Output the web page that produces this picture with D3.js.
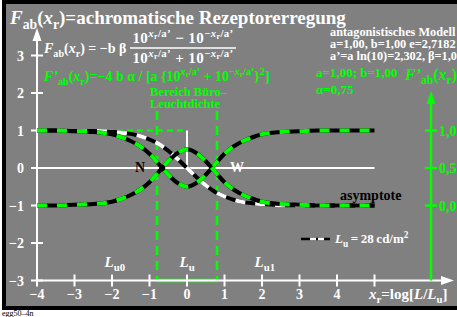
<!DOCTYPE html>
<html>
<head>
<meta charset="utf-8">
<script src="https://cdn.jsdelivr.net/npm/d3@7"></script>
<style>
body { margin: 0; background: #fff; }
svg { display: block; }
text { font-family: "Liberation Serif", "Times New Roman", serif; font-weight: bold; }
</style>
</head>
<body>
<div id="chart"></div>
<script>
// values
const xVals = [-4, -3.5, -3, -2.5, -2, -1.75, -1.5, -1.25, -1, -0.75, -0.5, -0.25, 0,
               0.25, 0.5, 0.75, 1, 1.25, 1.5, 1.75, 2, 2.5, 3, 3.5, 4, 4.5, 5];
// F_ab(x_r), left axis
const fAb = [1.00, 1.00, 0.99, 0.99, 0.96, 0.94, 0.91, 0.85, 0.76, 0.64, 0.46, 0.24, 0.00,
             -0.24, -0.46, -0.64, -0.76, -0.85, -0.91, -0.94, -0.96, -0.99, -0.99, -1.00, -1.00, -1.00, -1.00];
// F'_ab(x_r), right axis
const fDeriv = [0.00, 0.00, 0.01, 0.02, 0.05, 0.09, 0.14, 0.21, 0.31, 0.45, 0.59, 0.70, 0.75,
                0.70, 0.59, 0.45, 0.31, 0.21, 0.14, 0.09, 0.05, 0.02, 0.01, 0.00, 0.00, 0.00, 0.00];
const fDerivMirror = [1.00, 1.00, 0.99, 0.98, 0.95, 0.91, 0.86, 0.79, 0.69, 0.55, 0.41, 0.30, 0.25,
                      0.30, 0.41, 0.55, 0.69, 0.79, 0.86, 0.91, 0.95, 0.98, 0.99, 1.00, 1.00, 1.00, 1.00];

const xTicks = [-4, -3, -2, -1, 0, 1, 2, 3, 4, 5];
const xTickLabels = ["\u22124", "\u22123", "\u22122", "\u22121", "0", "1", "2", "3", "4", ""];
const yTicks = [-3, -2, -1, 0, 1, 2, 3];
const yTickLabels = ["\u22123", "\u22122", "\u22121", "0", "1", "2", "3"];
const rTicks = [0, 0.5, 1];
const rTickLabels = ["0,0", "0,5", "1,0"];
const officeRange = [-0.8, 0.8];
const luLabels = [["u0", -2.2], ["u", -0.2], ["u1", 1.8]];

const W = 457, H = 317;
const green = "#00ff00";

const svg = d3.select("#chart").append("svg")
    .attr("width", W)
    .attr("height", H);

const x = d3.scaleLinear().domain([-4, 5]).range([37, 374.5]);
const y = d3.scaleLinear().domain([-3, 3]).range([280.5, 55.5]);
const yR = d3.scaleLinear().domain([0, 1]).range([y(-1), y(1)]);

// frame
svg.append("rect").attr("x", 2).attr("y", 0).attr("width", 470).attr("height", 310).attr("fill", "#000");
svg.append("rect").attr("x", 6).attr("y", 4).attr("width", 470).attr("height", 302).attr("fill", "#808080");
svg.append("text").attr("x", 2).attr("y", 316).attr("font-size", 8).style("font-weight", "normal")
    .attr("fill", "#000").text("egg50\u20134n");

// rich text: parts = [text, style]; i italic, s sub, p sup, q sub inside sup
function rich(x0, y0, size, fill, parts, anchor, spacing) {
    const t = svg.append("text").attr("x", x0).attr("y", y0)
        .attr("font-size", size).attr("fill", fill);
    if (anchor) t.attr("text-anchor", anchor);
    if (spacing) t.attr("letter-spacing", spacing);
    let cur = 0;
    parts.forEach(p => {
        const txt = p[0], st = p[1] || "";
        let shift = 0, sc = 1;
        if (st.includes("s")) { shift = 0.28; sc = 0.72; }
        if (st.includes("p")) { shift = -0.42; sc = 0.72; }
        if (st.includes("q")) { shift = -0.26; sc = 0.52; }
        const sp = t.append("tspan").attr("dy", (shift - cur) * size)
            .attr("font-size", size * sc).text(txt);
        if (st.includes("i")) sp.style("font-style", "italic");
        cur = shift;
    });
    return t;
}

// zero line and the little white marker at x=0
svg.append("line").attr("x1", x(-4)).attr("x2", x(5)).attr("y1", y(0)).attr("y2", y(0))
    .attr("stroke", "#fff").attr("stroke-width", 2);
svg.append("line").attr("x1", x(0)).attr("x2", x(0)).attr("y1", y(0)).attr("y2", y(1))
    .attr("stroke", "#fff").attr("stroke-width", 2);

// office luminance range
const office = svg.append("g");
office.selectAll("line.v").data(officeRange).join("line")
    .attr("class", "v")
    .attr("x1", d => x(d)).attr("x2", d => x(d))
    .attr("y1", 111).attr("y2", y(-3))
    .attr("stroke", green).attr("stroke-width", 2.5)
    .attr("stroke-dasharray", "9,6");
office.append("line")
    .attr("x1", x(-4)).attr("x2", x(0)).attr("y1", y(1)).attr("y2", y(1))
    .attr("stroke", green).attr("stroke-width", 2)
    .attr("stroke-dasharray", "6,4");

// axes
const ax = svg.append("g").attr("stroke", "#fff").attr("stroke-width", 2);
ax.append("line").attr("x1", x(-4)).attr("x2", 448).attr("y1", y(-3)).attr("y2", y(-3));
ax.append("line").attr("x1", x(-4)).attr("x2", x(-4)).attr("y1", y(-3)).attr("y2", 34);
svg.append("path").attr("fill", "#fff")
    .attr("d", `M${x(-4)},28 L${x(-4) - 4.5},41 L${x(-4) + 4.5},41 Z`);
svg.append("path").attr("fill", "#fff")
    .attr("d", `M454,${y(-3)} L441,${y(-3) - 4.5} L441,${y(-3) + 4.5} Z`);

office.append("line")
    .attr("x1", x(officeRange[0])).attr("x2", x(officeRange[1]))
    .attr("y1", y(-3)).attr("y2", y(-3))
    .attr("stroke", green).attr("stroke-width", 3.5).attr("stroke-linecap", "round");

ax.selectAll("line.xt").data(xTicks).join("line")
    .attr("class", "xt")
    .attr("x1", d => x(d)).attr("x2", d => x(d))
    .attr("y1", y(-3) - 6).attr("y2", y(-3) + 6);
ax.selectAll("line.yt").data(yTicks).join("line")
    .attr("class", "yt")
    .attr("x1", x(-4) - 6).attr("x2", x(-4) + 6)
    .attr("y1", d => y(d)).attr("y2", d => y(d));

svg.selectAll("text.xl").data(xTicks).join("text")
    .attr("class", "xl")
    .attr("x", d => x(d)).attr("y", 299)
    .attr("text-anchor", "middle").attr("font-size", 14).attr("fill", "#fff")
    .text((d, i) => xTickLabels[i]);
svg.selectAll("text.yl").data(yTicks).join("text")
    .attr("class", "yl")
    .attr("x", 24).attr("y", d => y(d) + 5)
    .attr("text-anchor", "end").attr("font-size", 14).attr("fill", "#fff")
    .text((d, i) => yTickLabels[i]);

// right axis for F'
const rx = 431;
svg.append("line").attr("x1", rx).attr("x2", rx).attr("y1", y(-3)).attr("y2", 98)
    .attr("stroke", green).attr("stroke-width", 2.5);
svg.append("path").attr("fill", green)
    .attr("d", `M${rx},91 L${rx - 4.5},104 L${rx + 4.5},104 Z`);
svg.selectAll("line.rt").data(rTicks).join("line")
    .attr("class", "rt")
    .attr("x1", rx - 6).attr("x2", rx + 6)
    .attr("y1", d => yR(d)).attr("y2", d => yR(d))
    .attr("stroke", green).attr("stroke-width", 2.5);
svg.selectAll("text.rl").data(rTicks).join("text")
    .attr("class", "rl")
    .attr("x", rx + 8).attr("y", d => yR(d) + 5)
    .attr("font-size", 14).attr("fill", green)
    .text((d, i) => rTickLabels[i]);

// curves
const lineL = d3.line().x((d, i) => x(xVals[i])).y(d => y(d)).curve(d3.curveMonotoneX);
const lineR = d3.line().x((d, i) => x(xVals[i])).y(d => yR(d)).curve(d3.curveMonotoneX);

function dashed(path, col) {
    svg.append("path").attr("d", path).attr("fill", "none")
        .attr("stroke", "#000").attr("stroke-width", 4);
    svg.append("path").attr("d", path).attr("fill", "none")
        .attr("stroke", col).attr("stroke-width", 4)
        .attr("stroke-dasharray", "10,10");
}
dashed(lineL(fAb), "#fff");
dashed(lineR(fDerivMirror), green);
dashed(lineR(fDeriv), green);

// texts
rich(10, 24, 19, "#fff", [["F", "i"], ["ab", "s"], ["("], ["x", "i"], ["r", "s"],
    [")=achromatische Rezeptorerregung"]]);

rich(44, 53, 14, "#fff", [["F", "i"], ["ab", "s"], ["("], ["x", "i"], ["r", "s"], [") = \u2212b \u03b2"]]);
const frac = (op) => [["10"], ["x", "pi"], ["r", "q"], ["/a\u2019", "p"], [op + "10"],
    ["\u2212", "p"], ["x", "pi"], ["r", "q"], ["/a\u2019", "p"]];
rich(183, 43, 15, "#fff", frac(" \u2212 "), "middle", 0.4);
rich(183, 63, 15, "#fff", frac(" + "), "middle", 0.4);
svg.append("line").attr("x1", 130).attr("x2", 236).attr("y1", 48).attr("y2", 48)
    .attr("stroke", "#fff").attr("stroke-width", 1.5);

rich(44, 81, 14, green, [["F\u2019", "i"], ["ab", "s"], ["("], ["x", "i"], ["r", "s"],
    [")=\u22124 b \u03b1 / [a {10"], ["x", "pi"], ["r", "q"], ["/a\u2019", "p"], [" + 10"],
    ["\u2212", "p"], ["x", "pi"], ["r", "q"], ["/a\u2019", "p"], ["}"], ["2", "p"], ["]"]]);

rich(330, 36, 12.3, "#fff", [["antagonistisches Modell"]]);
rich(330, 48, 12.3, "#fff", [["a=1,00, b=1,00 e=2,7182"]]);
rich(330, 60, 12.3, "#fff", [["a\u2019=a ln(10)=2,302, \u03b2=1,0"]]);
rich(316, 77, 13, green, [["a=1,00; b=1,00"]]);
rich(316, 94, 13, green, [["\u03b1=0,75"]]);
rich(405, 80, 16, green, [["F\u2019", "i"], ["ab", "s"], ["("], ["x", "i"], ["r", "s"], [")"]]);

rich(150, 96, 12.5, green, [["Bereich B\u00fcro\u2013"]]);
rich(150, 108, 12.5, green, [["Leuchtdichte"]]);

rich(135, 172, 14, "#000", [["N"]]);
rich(230, 172, 14, "#fff", [["W"]]);
rich(340, 200, 14, "#000", [["asymptote"]]);

// legend
svg.append("line").attr("x1", 301).attr("x2", 330).attr("y1", 239).attr("y2", 239)
    .attr("stroke", "#000").attr("stroke-width", 2.5);
svg.append("line").attr("x1", 301).attr("x2", 330).attr("y1", 239).attr("y2", 239)
    .attr("stroke", "#fff").attr("stroke-width", 2.5).attr("stroke-dasharray", "0,9,6,2,6,10");
rich(335, 243, 13, "#fff", [["L", "i"], ["u", "s"], ["\u2009=\u200928\u2009cd/m"], ["2", "p"]]);

luLabels.forEach(d => {
    rich(x(d[1]), 267, 15, "#fff", [["L", "i"], [d[0], "s"]]);
});

rich(369, 299, 15, "#fff", [["x", "i"], ["r", "s"], ["=log["], ["L", "i"], ["/"], ["L", "i"], ["u", "s"], ["]"]]);
</script>
</body>
</html>
